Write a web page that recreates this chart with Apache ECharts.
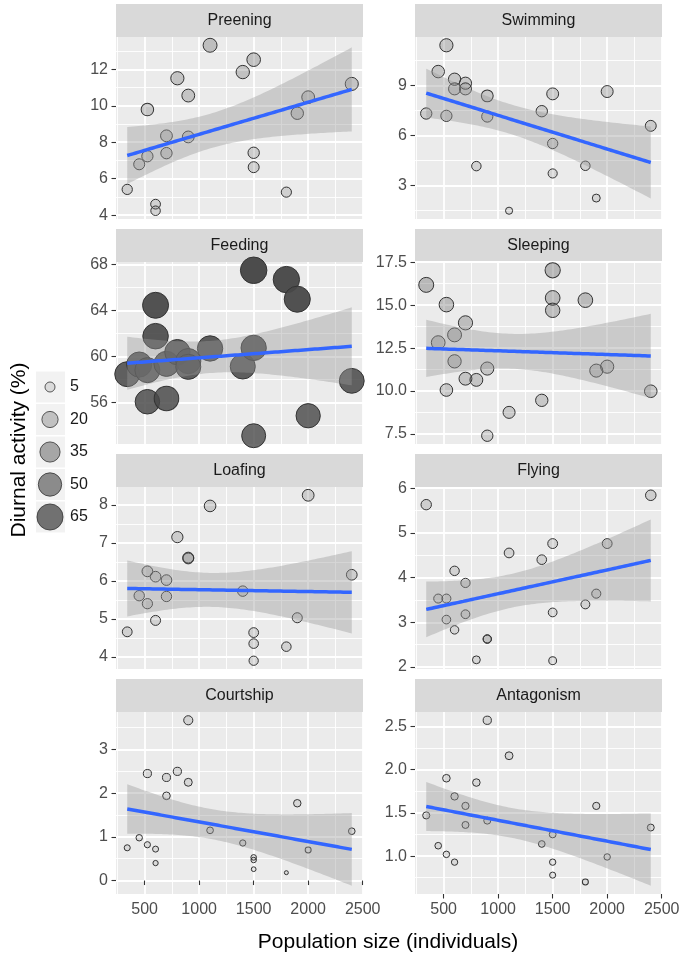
<!DOCTYPE html>
<html><head><meta charset="utf-8">
<script src="https://cdn.jsdelivr.net/npm/echarts@6/dist/echarts.min.js"></script>
<style>html,body{margin:0;padding:0;background:#fff}#c{width:685px;height:954px}</style>
</head><body><div id="c"></div>
<script>
// ---------------- DATA ----------------
const populationSize = [340, 450, 525, 525, 600, 600, 700, 700, 800, 900, 900, 1100, 1400, 1500, 1500, 1500, 1800, 1900, 2000, 2400];
const preening   = [5.41, 6.79, 9.79, 7.23, 4.60, 4.24, 8.35, 7.40, 11.51, 10.56, 8.29, 13.32, 11.85, 12.53, 7.42, 6.63, 5.26, 9.59, 10.47, 11.20];
const swimming   = [7.32, 9.84, 11.42, 7.18, 9.38, 8.80, 9.14, 8.80, 4.16, 8.38, 7.14, 1.48, 7.46, 8.50, 5.52, 3.72, 4.18, 2.24, 8.64, 6.58];
const feeding    = [58.46, 59.30, 56.06, 58.81, 64.46, 61.77, 56.35, 59.36, 60.38, 59.60, 59.10, 60.70, 59.13, 67.51, 60.75, 53.10, 66.70, 64.99, 54.84, 57.88];
const sleeping   = [16.18, 12.82, 15.03, 10.06, 13.27, 11.73, 13.97, 10.72, 10.65, 11.31, 7.40, 8.76, 9.46, 17.03, 15.42, 14.70, 15.29, 11.19, 11.42, 9.99];
const loafing    = [4.66, 5.61, 6.25, 5.40, 6.11, 4.96, 6.02, 5.59, 7.15, 6.59, 6.61, 7.97, 5.73, 4.64, 4.35, 3.90, 4.27, 5.03, 8.25, 6.16];
const flying     = [5.63, 3.53, 3.53, 3.06, 4.15, 2.83, 3.88, 3.18, 2.16, 2.62, 2.63, 4.55, 4.40, 4.76, 3.22, 2.14, 3.40, 3.64, 4.76, 5.84];
const courtship  = [0.75, 0.98, 2.45, 0.82, 0.72, 0.40, 2.36, 1.94, 2.50, 3.67, 2.25, 1.15, 0.86, 0.53, 0.47, 0.26, 0.18, 1.77, 0.70, 1.13];
const antagonism = [1.47, 1.12, 1.90, 1.02, 1.69, 0.93, 1.58, 1.36, 1.85, 2.57, 1.41, 2.16, 1.14, 1.25, 0.93, 0.78, 0.70, 1.58, 0.99, 1.33];

const panelNames  = ['Preening', 'Swimming', 'Feeding', 'Sleeping', 'Loafing', 'Flying', 'Courtship', 'Antagonism'];
const panelValues = [preening, swimming, feeding, sleeping, loafing, flying, courtship, antagonism];

const xBreaks      = [500, 1000, 1500, 2000, 2500];
const xMinorBreaks = [250, 750, 1250, 1750, 2250];
const yBreaks = [
  [4, 6, 8, 10, 12],
  [3, 6, 9],
  [56, 60, 64, 68],
  [7.5, 10, 12.5, 15, 17.5],
  [4, 5, 6, 7, 8],
  [2, 3, 4, 5, 6],
  [0, 1, 2, 3],
  [1.0, 1.5, 2.0, 2.5]
];
const yDecimals = [0, 0, 0, 1, 0, 0, 0, 1];
const legendBreaks = [5, 20, 35, 50, 65];

const xTitle = 'Population size (individuals)';
const yTitle = 'Diurnal activity (%)';

// ---------------- LAYOUT / STYLE ----------------
const FONT = 'Liberation Sans, Arial, Helvetica, sans-serif';
const COL_X = [116, 415];
const PANEL_W = 247;
const ROW_Y = [37, 262, 487, 712];
const PANEL_H = 182;
const STRIP_H = 33;

const allVals = [].concat(...panelValues);
const VMIN = Math.min(...allVals), VMAX = Math.max(...allVals);
function frac(v) { return Math.max(0, Math.min(1, (v - VMIN) / (VMAX - VMIN))); }
function pointDiameter(v) { return 5 + 22.5 * Math.sqrt(frac(v)); }
function pointFill(v) { return 'rgba(72,72,72,' + (0.1 + 0.88 * frac(v)).toFixed(3) + ')'; }

// linear model fit with confidence band around the fitted line
const BAND_MULT = 1.645; // band half-width in standard errors
function lmBand(xs, ys, nOut) {
  const n = xs.length;
  const mx = xs.reduce((a, b) => a + b, 0) / n;
  const my = ys.reduce((a, b) => a + b, 0) / n;
  let sxx = 0, sxy = 0;
  for (let i = 0; i < n; i++) { sxx += (xs[i] - mx) ** 2; sxy += (xs[i] - mx) * (ys[i] - my); }
  const b = sxy / sxx, a = my - b * mx;
  let sse = 0;
  for (let i = 0; i < n; i++) sse += (ys[i] - a - b * xs[i]) ** 2;
  const s = Math.sqrt(sse / (n - 2));
  const x0 = Math.min(...xs), x1 = Math.max(...xs);
  const out = [];
  for (let k = 0; k < nOut; k++) {
    const x = x0 + (x1 - x0) * k / (nOut - 1);
    const f = a + b * x;
    const se = s * Math.sqrt(1 / n + (x - mx) ** 2 / sxx);
    out.push([x, f - BAND_MULT * se, f + BAND_MULT * se, f]);
  }
  return out;
}

const xMinData = Math.min(...populationSize), xMaxData = Math.max(...populationSize);
const xPad = 0.05 * (xMaxData - xMinData);
const X_MIN = xMinData - xPad, X_MAX = xMaxData + xPad;

const grids = [], xAxes = [], yAxes = [], series = [], graphics = [], legends = [];

panelNames.forEach((name, i) => {
  const col = i % 2, row = Math.floor(i / 2);
  const vals = panelValues[i];
  const band = lmBand(populationSize, vals, 80);
  let lo = Math.min(...vals, ...band.map(d => d[1]));
  let hi = Math.max(...vals, ...band.map(d => d[2]));
  const pad = 0.05 * (hi - lo);
  const yMin = lo - pad, yMax = hi + pad;
  const yMinor = [];
  const yb = yBreaks[i], step = yb[1] - yb[0];
  for (let v = yb[0] - step / 2; v <= yMax; v += step) if (v >= yMin) yMinor.push(+v.toFixed(4));

  grids.push({ left: COL_X[col], top: ROW_Y[row], width: PANEL_W, height: PANEL_H,
    show: true, backgroundColor: '#EBEBEB', borderWidth: 0, containLabel: false });

  const bottomRow = row === 3;
  xAxes.push({ type: 'value', gridIndex: i, min: X_MIN, max: X_MAX,
    axisLine: { show: false },
    axisTick: { show: bottomRow, length: 4.5, customValues: xBreaks, lineStyle: { color: '#333333', width: 1.1 } },
    axisLabel: { show: bottomRow, customValues: xBreaks, margin: 8, fontSize: 16, color: '#4D4D4D', fontFamily: FONT,
      showMinLabel: true, showMaxLabel: true, formatter: v => String(v) },
    splitLine: { show: true, lineStyle: { color: '#FFFFFF', width: 1.8 } }, z: 1 });
  xAxes.push({ type: 'value', gridIndex: i, min: X_MIN, max: X_MAX,
    axisLine: { show: false }, axisTick: { show: false, customValues: xMinorBreaks },
    axisLabel: { show: false, customValues: xMinorBreaks },
    splitLine: { show: true, lineStyle: { color: '#FFFFFF', width: 0.9 } }, z: 0 });
  yAxes.push({ type: 'value', gridIndex: i, min: yMin, max: yMax,
    axisLine: { show: false },
    axisTick: { show: true, length: 4.5, customValues: yb, lineStyle: { color: '#333333', width: 1.1 } },
    axisLabel: { show: true, customValues: yb, margin: 8, fontSize: 16, color: '#4D4D4D', fontFamily: FONT,
      formatter: v => Number(v).toFixed(yDecimals[i]) },
    splitLine: { show: true, lineStyle: { color: '#FFFFFF', width: 1.8 } }, z: 1 });
  yAxes.push({ type: 'value', gridIndex: i, min: yMin, max: yMax,
    axisLine: { show: false }, axisTick: { show: false, customValues: yMinor },
    axisLabel: { show: false, customValues: yMinor },
    splitLine: { show: true, lineStyle: { color: '#FFFFFF', width: 0.9 } }, z: 0 });

  const xi = 2 * i, yi = 2 * i;
  series.push({ type: 'scatter', name: 'pts' + i, xAxisIndex: xi, yAxisIndex: yi, z: 2,
    data: populationSize.map((x, j) => [x, vals[j]]),
    symbol: 'circle',
    symbolSize: v => pointDiameter(v[1]) - 1,
    itemStyle: { color: p => pointFill(p.value[1]), borderColor: '#333333', borderWidth: 1, opacity: 1 },
    emphasis: { disabled: true }, silent: true });
  series.push({ type: 'custom', name: 'band' + i, xAxisIndex: xi, yAxisIndex: yi, z: 3,
    data: band.map(d => [d[0], d[1], d[2]]), silent: true,
    renderItem: (params, api) => {
      if (params.dataIndex !== 0) return null;
      const pts = [];
      for (let k = 0; k < band.length; k++) pts.push(api.coord([band[k][0], band[k][2]]));
      for (let k = band.length - 1; k >= 0; k--) pts.push(api.coord([band[k][0], band[k][1]]));
      return { type: 'polygon', shape: { points: pts }, style: { fill: 'rgba(153,153,153,0.4)' } };
    } });
  series.push({ type: 'line', name: 'fit' + i, xAxisIndex: xi, yAxisIndex: yi, z: 4,
    data: band.map(d => [d[0], d[3]]), showSymbol: false, symbol: 'none', silent: true,
    lineStyle: { color: '#3366FF', width: 3.5 } });

  graphics.push({ type: 'rect', left: COL_X[col], top: ROW_Y[row] - STRIP_H,
    shape: { width: PANEL_W, height: STRIP_H }, style: { fill: '#D9D9D9' }, silent: true });
  graphics.push({ type: 'text', x: COL_X[col] + PANEL_W / 2, y: ROW_Y[row] - STRIP_H / 2,
    style: { text: name, fontSize: 16, fill: '#1A1A1A', fontFamily: FONT, align: 'center', verticalAlign: 'middle' }, silent: true });
});

// size legend
const LEG_CX = 50, LEG_Y0 = 387, LEG_STEP = 32.5;
legendBreaks.forEach((v, k) => {
  const nm = String(v);
  const d = pointDiameter(v);
  series.push({ type: 'scatter', name: nm, xAxisIndex: 0, yAxisIndex: 0, data: [],
    itemStyle: { color: pointFill(v), borderColor: '#333333', borderWidth: 1 } });
  const cy = LEG_Y0 + k * LEG_STEP;
  graphics.push({ type: 'rect', left: 36, top: cy - 15.5, shape: { width: 29, height: 31 },
    style: { fill: '#F2F2F2' }, silent: true, z: -1 });
  legends.push({ data: [nm], orient: 'vertical', left: LEG_CX - d / 2, top: cy - 15, padding: 0,
    icon: 'circle', itemWidth: 30, itemHeight: d - 1, selectedMode: false,
    itemStyle: { borderColor: '#333333', borderWidth: 1 },
    textStyle: { fontSize: 16, color: '#1A1A1A', fontFamily: FONT, height: 30, lineHeight: 30 } });
});

graphics.push({ type: 'text', x: 388, y: 942,
  style: { text: xTitle, fontSize: 21, fill: '#000000', fontFamily: FONT, align: 'center', verticalAlign: 'middle' } });
graphics.push({ type: 'text', x: 19, y: 450, rotation: Math.PI / 2,
  style: { text: yTitle, fontSize: 21, fill: '#000000', fontFamily: FONT, align: 'center', verticalAlign: 'middle' } });

const chart = echarts.init(document.getElementById('c'), null, { renderer: 'canvas' });
chart.setOption({
  animation: false,
  backgroundColor: '#FFFFFF',
  grid: grids, xAxis: xAxes, yAxis: yAxes, series: series,
  legend: legends,
  graphic: { elements: graphics }
});
</script></body></html>
